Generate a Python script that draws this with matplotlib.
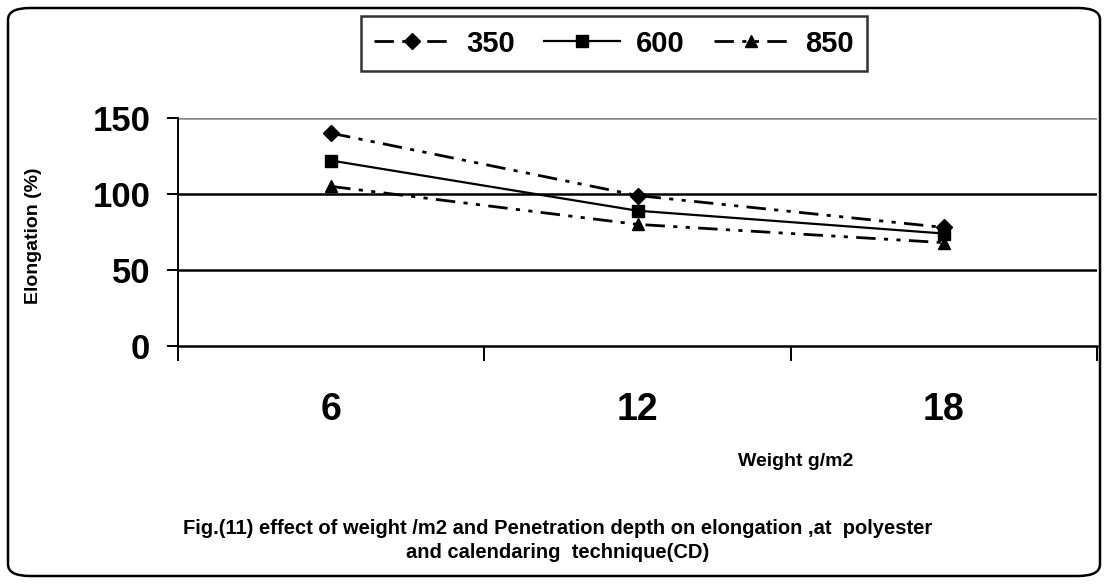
import matplotlib
matplotlib.use("Agg")
import matplotlib.pyplot as plt
from matplotlib.patches import FancyBboxPatch

categories = ["6", "12", "18"]
series_names = ["350", "600", "850"]
vals_350 = [140, 99, 78]
vals_600 = [122, 89, 74]
vals_850 = [105, 80, 68]
yticks = [0, 50, 100, 150]

plt.rcParams["font.family"] = ["Liberation Sans", "DejaVu Sans"]
plt.rcParams["font.weight"] = "bold"

fig = plt.figure(figsize=(11.1, 5.84), dpi=100)
ax = fig.add_axes([178/1110, 1-346/584, (1097-178)/1110, (346-118)/584])

x = list(range(len(categories)))
dashdotdot = (0, (7, 3, 1.5, 3, 1.5, 3))
ax.plot(x, vals_350, color="black", lw=2.0, linestyle=dashdotdot, marker="D", ms=8, label=series_names[0])
ax.plot(x, vals_600, color="black", lw=1.6, linestyle="-", marker="s", ms=8, label=series_names[1])
ax.plot(x, vals_850, color="black", lw=2.0, linestyle=dashdotdot, marker="^", ms=9, label=series_names[2])

ax.set_xlim(-0.5, 2.5)
ax.set_ylim(0, 150)
ax.set_yticks(yticks)
ax.set_yticklabels([str(v) for v in yticks], fontsize=25, fontweight="bold")
for v in yticks[1:]:
    ax.axhline(v, color="black" if v < 150 else "#888888", lw=1.8, zorder=0)

ax.set_xticks([-0.5, 0.5, 1.5, 2.5])
ax.set_xticklabels([])
ax.tick_params(axis="x", direction="out", length=11, width=1.4, colors="black")
ax.tick_params(axis="y", direction="out", length=8, width=1.4, pad=12)
for i, c in enumerate(categories):
    ax.text(i, -0.281, c, transform=ax.get_xaxis_transform(), ha="center", va="center",
            fontsize=27, fontweight="bold")

for s in ["top", "right"]:
    ax.spines[s].set_visible(False)
ax.spines["left"].set_linewidth(1.4)
ax.spines["bottom"].set_linewidth(1.8)

fig.text(33/1110, 1-236/584, "Elongation (%)", rotation=90, ha="center", va="center",
         fontsize=14, fontweight="bold")
fig.text(796/1110, 1-462/584, "Weight g/m2", ha="center", va="center", fontsize=14, fontweight="bold")
fig.text(558/1110, 1-528/584, "Fig.(11) effect of weight /m2 and Penetration depth on elongation ,at  polyester",
         ha="center", va="center", fontsize=14.5, fontweight="bold")
fig.text(558/1110, 1-553/584, "and calendaring  technique(CD)",
         ha="center", va="center", fontsize=14.5, fontweight="bold")

leg = fig.legend(loc="center", bbox_to_anchor=(614/1110, 1-43.5/584), ncol=3, frameon=True,
                 prop={"weight": "bold", "size": 21}, handlelength=2.6,
                 columnspacing=1.0, handletextpad=0.55, fancybox=False, edgecolor="black",
                 borderpad=0.45, borderaxespad=0)
leg.get_frame().set_linewidth(1.8)

border = FancyBboxPatch((8/1110, 8/584), 1092/1110, 568/584, boxstyle="round,pad=0,rounding_size=0.02",
                        transform=fig.transFigure, fill=False, edgecolor="black", lw=1.8)
fig.patches.append(border)

fig.savefig("out.png", dpi=100)
